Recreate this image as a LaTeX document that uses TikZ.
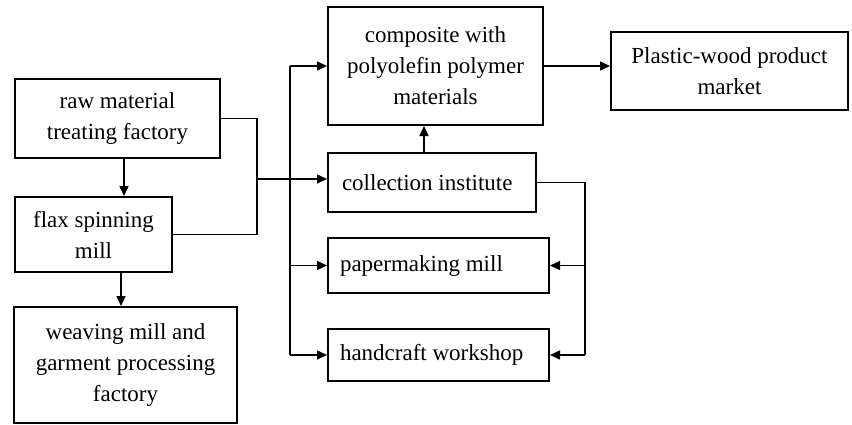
\documentclass[tikz,border=0pt]{standalone}
\usepackage{fontspec}
\setmainfont{Liberation Serif}
\usetikzlibrary{arrows.meta}
\begin{document}
\begin{tikzpicture}[x=1pt,y=-1pt,
  box/.style={draw, line width=2pt, align=center, inner sep=0pt,
    font=\fontsize{23}{31}\selectfont},
  lbox/.style={box, align=flush left},
  conn/.style={line width=1.5pt},
  arr/.style={conn, -{Triangle[length=10pt,width=9pt]}}]
\useasboundingbox (0,0) rectangle (852,424);
\node[box, minimum width=205pt, minimum height=79pt] (raw) at (117.5,118.5) {raw material\\treating factory};
\node[box, minimum width=157pt, minimum height=75pt] (flax) at (93.5,234.5) {flax spinning\\mill};
\node[box, minimum width=223pt, minimum height=116pt] (weave) at (125.5,365) {weaving mill and\\garment processing\\factory};
\node[box, minimum width=215pt, minimum height=118pt] (comp) at (435.5,66) {composite with\\polyolefin polymer\\materials};
\node[lbox, text width=180pt, minimum width=208pt, minimum height=59pt] (coll) at (432,182.5) {collection institute};
\node[lbox, text width=197pt, minimum width=221pt, minimum height=55pt] (paper) at (438.5,265.5) {papermaking mill};
\node[lbox, text width=197pt, minimum width=221pt, minimum height=52pt] (hand) at (438.5,355) {handcraft workshop};
\node[box, minimum width=237pt, minimum height=78pt] (plast) at (729.5,71) {Plastic-wood product\\market};
% left chain
\draw[arr] ([xshift=6.5pt]raw.south) -- ([xshift=6.5pt]raw.south |- flax.north);
\draw[arr] ([xshift=27.5pt]flax.south) -- ([xshift=27.5pt]flax.south |- weave.north);
\coordinate (j1) at (257,179);
\draw[conn] (raw.east) -| (j1) |- (flax.east);
\draw[arr] (j1) -- (j1 -| coll.west);
% left bus
\coordinate (bt) at (290,66);
\coordinate (bb) at (290,355);
\draw[conn] (bt) -- (bb);
\draw[arr] (bt) -- (comp.west);
\draw[arr] (paper.west -| bt) -- (paper.west);
\draw[arr] (bb) -- (hand.west);
% collection up
\draw[arr] ([xshift=-8pt]coll.north) -- ([xshift=-8pt]coll.north |- comp.south);
% right bus
\coordinate (rb) at (585,355);
\draw[conn] (coll.east) -| (rb);
\draw[arr] (paper.east -| rb) -- (paper.east);
\draw[arr] (rb) -- (hand.east);
% to market
\draw[arr] (comp.east) -- (comp.east -| plast.west);
\end{tikzpicture}
\end{document}
